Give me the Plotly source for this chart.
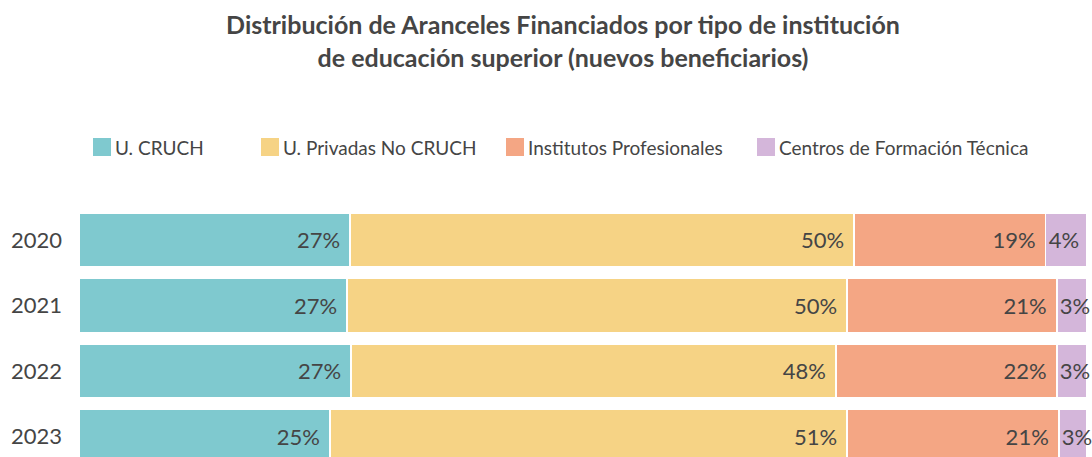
import plotly.graph_objects as go

years = ["2020", "2021", "2022", "2023"]
series_names = ["U. CRUCH", "U. Privadas No CRUCH", "Institutos Profesionales",
                "Centros de Formación Técnica"]
cruch = [26.9, 26.6, 27.0, 24.9]
privadas = [50.0, 49.6, 48.1, 51.3]
institutos = [19.0, 20.8, 21.9, 21.0]
cft = [4.1, 3.0, 3.0, 2.8]
colors = ["#7fc9cf", "#f6d385", "#f4a684", "#d4b6da"]

W, H = 1092, 457
ML, MR, MT, MB = 79, 5, 207, 0
TXT = "#454545"
FONT = "Lato"

fig = go.Figure()
values = [cruch, privadas, institutos, cft]
for i, (name, vals, col) in enumerate(zip(series_names, values, colors)):
    last = i == len(values) - 1
    fig.add_trace(go.Bar(
        y=years, x=vals, name=name, orientation="h",
        marker=dict(color=col, line=dict(color="white", width=1.5)),
        texttemplate="%{x:.0f}%" if last else "%{x:.0f}%\u00a0\u200a",
        textposition="inside",
        insidetextanchor="start" if last else "end",
        constraintext="none",
        textangle=0,
        textfont=dict(family=FONT, size=22, color=TXT),
        cliponaxis=False,
        showlegend=False,
        hoverinfo="skip",
    ))

# custom legend (square swatches, tight text)
plot_h = H - MT - MB
plot_w = W - ML - MR
def px_x(px):
    return (px - ML) / plot_w
def px_y(py):
    return (H - MB - py) / plot_h

swatch_left = [93, 261, 506, 757]
shapes = []
annotations = []
for name, col, sx in zip(series_names, colors, swatch_left):
    shapes.append(dict(type="rect", xref="paper", yref="paper",
                       x0=px_x(sx), x1=px_x(sx + 18), y0=px_y(156), y1=px_y(138),
                       fillcolor=col, line=dict(width=0)))
    annotations.append(dict(text=name, xref="paper", yref="paper",
                            x=px_x(sx + 20), y=px_y(147.5), xanchor="left", yanchor="middle",
                            showarrow=False, font=dict(family=FONT, size=19, color=TXT)))

fig.update_layout(
    width=W, height=H,
    barmode="stack", bargap=0.18,
    plot_bgcolor="white", paper_bgcolor="white",
    margin=dict(l=ML, r=MR, t=MT, b=MB, pad=0),
    title=dict(text="Distribución de Aranceles Financiados por tipo de institución<br>de educación superior (nuevos beneficiarios)",
               x=563 / W, xref="container", xanchor="center",
               y=1 - 34 / H, yref="container", yanchor="top",
               font=dict(family=FONT, size=25, color=TXT, weight="bold")),
    xaxis=dict(range=[0, 100], visible=False, fixedrange=True, automargin=False),
    yaxis=dict(type="category", categoryorder="array", categoryarray=years,
               range=[3.311, -0.5], showgrid=False, zeroline=False, showline=False,
               ticks="", ticklabelstandoff=16, automargin=False, fixedrange=True,
               tickfont=dict(family=FONT, size=22, color=TXT)),
    shapes=shapes, annotations=annotations,
    showlegend=False,
)

fig.write_html("out.html", config={"displayModeBar": False},
               post_script="document.body.style.margin='0';document.body.style.overflow='hidden';")
